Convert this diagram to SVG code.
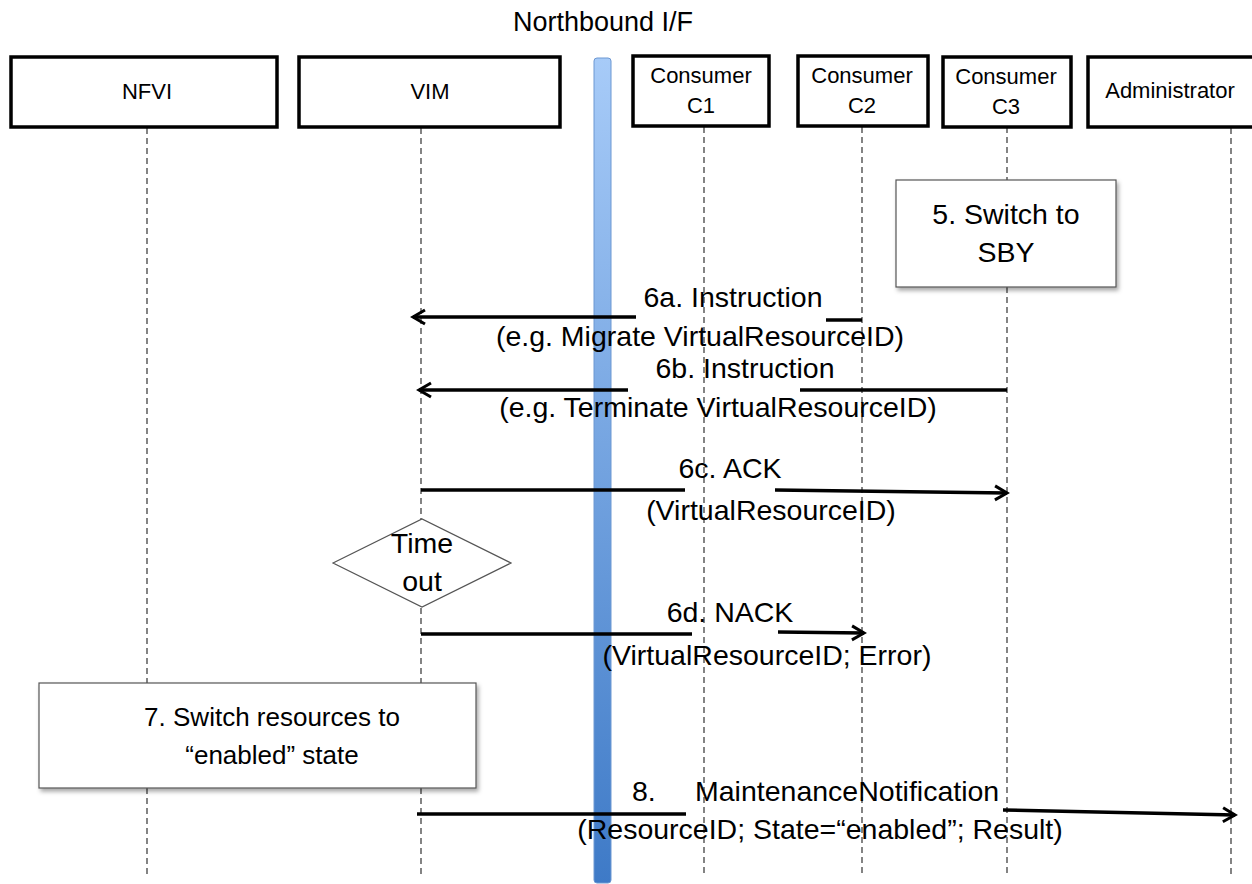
<svg xmlns="http://www.w3.org/2000/svg" width="1252" height="884" viewBox="0 0 1252 884">
<style>
text{font-family:"Liberation Sans",Arial,sans-serif;fill:#000}
.hdr{font-size:22px;text-anchor:middle}
.lbl{font-size:28.5px;text-anchor:middle}
.actor{fill:#fff;stroke:#000;stroke-width:3.5}
.life{stroke:#333;stroke-width:1.2;stroke-dasharray:6,4;fill:none}
.msg{stroke:#000;stroke-width:3.5;fill:none}
.note{fill:#fff;stroke:#555;stroke-width:1.2}
</style>
<defs>
<linearGradient id="bar" x1="0" y1="0" x2="0" y2="1">
<stop offset="0" stop-color="#a7cbf8"/>
<stop offset="1" stop-color="#3e7ac7"/>
</linearGradient>
<filter id="sh" x="-10%" y="-10%" width="125%" height="130%">
<feDropShadow dx="2" dy="3" stdDeviation="2" flood-color="#000" flood-opacity="0.35"/>
</filter>
<marker id="ah" viewBox="0 0 18 18" refX="15" refY="9" markerWidth="18" markerHeight="18" markerUnits="userSpaceOnUse" orient="auto">
<path d="M3,2 L15,9 L3,16" fill="none" stroke="#000" stroke-width="3"/>
</marker>
</defs>

<g id="lifelines">
<line class="life" x1="147" y1="128" x2="147" y2="876"/>
<line class="life" x1="421" y1="128" x2="421" y2="876"/>
<line class="life" x1="704" y1="127" x2="704" y2="876"/>
<line class="life" x1="862" y1="127" x2="862" y2="876"/>
<line class="life" x1="1007" y1="127" x2="1007" y2="876"/>
<line class="life" x1="1231" y1="128" x2="1231" y2="876"/>
</g>

<g id="northbound">
<rect x="594" y="58" width="17" height="825" rx="3" fill="url(#bar)" stroke="#6d98d2" stroke-width="1"/>
<text x="603" y="31" style="font-size:27px;text-anchor:middle">Northbound I/F</text>
</g>

<g id="nfvi">
<rect class="actor" x="11" y="57" width="266" height="70"/>
<text class="hdr" x="147" y="99">NFVI</text>
</g>
<g id="vim">
<rect class="actor" x="299" y="57" width="261" height="70"/>
<text class="hdr" x="430" y="99">VIM</text>
</g>
<g id="c1">
<rect class="actor" x="633" y="56" width="136" height="70"/>
<text class="hdr" x="701" y="83">Consumer</text>
<text class="hdr" x="701" y="113">C1</text>
</g>
<g id="c2">
<rect class="actor" x="798" y="56" width="130" height="70"/>
<text class="hdr" x="862" y="83">Consumer</text>
<text class="hdr" x="862" y="113">C2</text>
</g>
<g id="c3">
<rect class="actor" x="943" y="57" width="128" height="70"/>
<text class="hdr" x="1006" y="84">Consumer</text>
<text class="hdr" x="1006" y="114">C3</text>
</g>
<g id="admin">
<rect class="actor" x="1088" y="57" width="170" height="70"/>
<text class="hdr" x="1170" y="98">Administrator</text>
</g>

<g id="step5">
<rect class="note" x="896" y="180" width="220" height="107" filter="url(#sh)"/>
<text class="lbl" x="1006" y="224">5. Switch to</text>
<text class="lbl" x="1006" y="262">SBY</text>
</g>

<g id="timeout">
<polygon points="333,563 422,519 511,563 422,607" fill="#fff" stroke="#555" stroke-width="1.2"/>
<text class="lbl" x="422" y="553">Time</text>
<text class="lbl" x="422" y="591">out</text>
</g>

<g id="step7">
<rect class="note" x="39" y="683" width="437" height="105" filter="url(#sh)"/>
<text x="272" y="726" style="font-size:26px;text-anchor:middle">7. Switch resources to</text>
<text x="272" y="764" style="font-size:26px;text-anchor:middle">“enabled” state</text>
</g>

<g id="connectors">
<line class="msg" x1="636" y1="317" x2="413" y2="317" marker-end="url(#ah)"/>
<line class="msg" x1="826" y1="320" x2="862" y2="320"/>
<line class="msg" x1="628" y1="390" x2="419" y2="390" marker-end="url(#ah)"/>
<line class="msg" x1="800" y1="390" x2="1007" y2="390"/>
<line class="msg" x1="421" y1="490" x2="685" y2="490"/>
<line class="msg" x1="775" y1="490" x2="1007" y2="493" marker-end="url(#ah)"/>
<line class="msg" x1="421" y1="634" x2="692" y2="634"/>
<line class="msg" x1="778" y1="632" x2="864" y2="633" marker-end="url(#ah)"/>
<line class="msg" x1="417" y1="814" x2="686" y2="814"/>
<line class="msg" x1="1003" y1="810" x2="1235" y2="815" marker-end="url(#ah)"/>
</g>

<g id="labels">
<text class="lbl" x="733" y="307">6a. Instruction</text>
<text class="lbl" x="700" y="346">(e.g. Migrate VirtualResourceID)</text>
<text class="lbl" x="745" y="378">6b. Instruction</text>
<text class="lbl" x="718" y="417">(e.g. Terminate VirtualResourceID)</text>
<text class="lbl" x="730" y="478">6c. ACK</text>
<text class="lbl" x="771" y="520">(VirtualResourceID)</text>
<text class="lbl" x="730" y="622">6d. NACK</text>
<text class="lbl" x="767" y="665">(VirtualResourceID; Error)</text>
<text x="632" y="801" style="font-size:28.5px">8.</text>
<text x="695" y="801" style="font-size:28.5px">MaintenanceNotification</text>
<text class="lbl" x="820" y="839">(ResourceID; State=“enabled”; Result)</text>
</g>
</svg>
